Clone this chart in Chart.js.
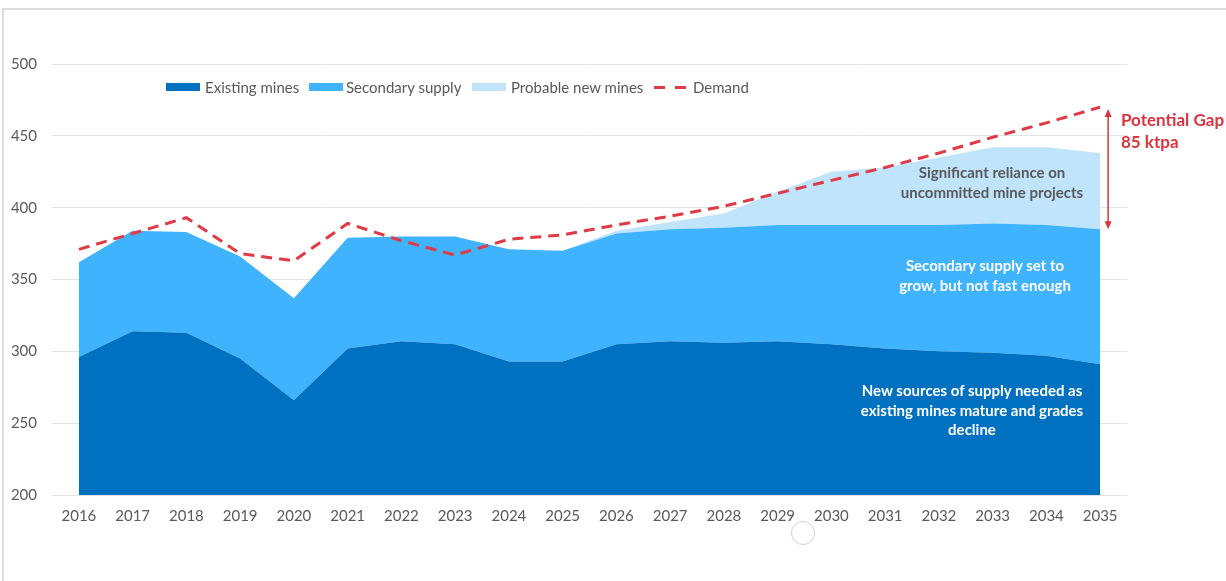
<!DOCTYPE html>
<html>
<head>
<meta charset="utf-8">
<script src="https://cdn.jsdelivr.net/npm/chart.js@4.4.1/dist/chart.umd.min.js"></script>
<style>
    html, body { margin: 0; padding: 0; background: #fff; }
    body { width: 1226px; height: 581px; position: relative; overflow: hidden; font-family: Lato, "Open Sans", sans-serif; }
    #frame { position: absolute; left: 2px; top: 8px; right: -10px; bottom: -10px; border-top: 2px solid #dcdcdc; border-left: 2px solid #dcdcdc; }
    #wrap { position: absolute; left: 0; top: 0; width: 1226px; height: 581px; }
    .leg { position: absolute; top: 78px; height: 18px; line-height: 18px; font-size: 15px; color: #595959; white-space: nowrap; }
    .box { position: absolute; top: 83px; width: 34px; height: 8px; }
    .note { position: absolute; font-weight: bold; font-size: 15px; line-height: 19.5px; text-align: center; white-space: nowrap; transform: translateX(-50%); }
    .gap { position: absolute; left: 1121px; top: 109px; font-weight: bold; font-size: 17px; line-height: 22px; color: #d9343f; white-space: nowrap; }
    #blip { position: absolute; left: 791px; top: 521px; width: 22px; height: 22px; border: 1px solid #d0d0d0; border-radius: 50%; }
</style>
</head>
<body>
<div id="frame"></div>
<div id="wrap"><canvas id="supplyChart" width="1226" height="581"></canvas></div>

<div class="box" style="left:166px;background:#0070c0"></div>
<div class="leg" style="left:205px">Existing mines</div>
<div class="box" style="left:309px;background:#40b3ff"></div>
<div class="leg" style="left:346px">Secondary supply</div>
<div class="box" style="left:472px;background:#c0e4fb"></div>
<div class="leg" style="left:511px">Probable new mines</div>
<div class="box" style="left:654px;top:86px;width:11px;height:3px;background:#df3a45"></div>
<div class="box" style="left:675px;top:86px;width:11px;height:3px;background:#df3a45"></div>
<div class="leg" style="left:693px">Demand</div>

<div class="note" style="left:992px;top:163px;color:#595959">Significant reliance on<br>uncommitted mine projects</div>
<div class="note" style="left:985px;top:256px;color:#fff">Secondary supply set to<br>grow, but not fast enough</div>
<div class="note" style="left:972px;top:381px;color:#fff">New sources of supply needed as<br>existing mines mature and grades<br>decline</div>
<div class="gap">Potential Gap<br>85 ktpa</div>
<div id="blip"></div>

<script>
// ข้อมูลของกราฟ (ktpa)
const years = ['2016', '2017', '2018', '2019', '2020', '2021', '2022', '2023', '2024', '2025',
               '2026', '2027', '2028', '2029', '2030', '2031', '2032', '2033', '2034', '2035'];
const existingMines = [296, 314, 313, 295, 266, 302, 307, 305, 293, 293, 305, 307, 306, 307, 305, 302, 300, 299, 297, 291];
const secondarySupply = [66, 70, 70, 71, 71, 77, 73, 75, 78, 77, 77, 78, 80, 81, 83, 86, 88, 90, 91, 94];
const probableNewMines = [0, 0, 0, 0, 0, 0, 0, 0, 0, 0, 2, 5, 10, 23, 37, 40, 47, 53, 54, 53];
const demand = [371, 382, 393, 368, 363, 389, 377, 367, 378, 381, 388, 394, 401, 410, 419, 428, 438, 449, 459, 470];
const yTicks = [200, 250, 300, 350, 400, 450, 500];

// ลูกศรแสดง gap ที่ปี 2035
const gapArrow = {
    id: 'gapArrow',
    afterDatasetsDraw(chart) {
        const { ctx, scales } = chart;
        const last = years.length - 1;
        const x = scales.x.getPixelForValue(last) + 8;
        const yTop = scales.y.getPixelForValue(demand[last]) + 2;
        const yBot = scales.y.getPixelForValue(existingMines[last] + secondarySupply[last]);
        ctx.save();
        ctx.strokeStyle = '#d9343f';
        ctx.fillStyle = '#d9343f';
        ctx.lineWidth = 1.5;
        ctx.beginPath();
        ctx.moveTo(x, yTop + 4);
        ctx.lineTo(x, yBot - 4);
        ctx.stroke();
        ctx.beginPath();
        ctx.moveTo(x, yTop); ctx.lineTo(x - 3.5, yTop + 8); ctx.lineTo(x + 3.5, yTop + 8); ctx.closePath();
        ctx.fill();
        ctx.beginPath();
        ctx.moveTo(x, yBot); ctx.lineTo(x - 3.5, yBot - 8); ctx.lineTo(x + 3.5, yBot - 8); ctx.closePath();
        ctx.fill();
        ctx.restore();
    }
};

function initializeSupplyChart() {
    const ctx = document.getElementById('supplyChart').getContext('2d');
    new Chart(ctx, {
        type: 'line',
        data: {
            labels: years,
            datasets: [
                {
                    label: 'Demand',
                    data: demand,
                    stack: 'demand',
                    borderColor: '#df3a45',
                    borderWidth: 3,
                    borderDash: [11, 7],
                    fill: false
                },
                {
                    label: 'Existing mines',
                    data: existingMines,
                    stack: 'supply',
                    backgroundColor: '#0070c0',
                    borderWidth: 0,
                    fill: 'start'
                },
                {
                    label: 'Secondary supply',
                    data: secondarySupply,
                    stack: 'supply',
                    backgroundColor: '#40b3ff',
                    borderWidth: 0,
                    fill: '-1'
                },
                {
                    label: 'Probable new mines',
                    data: probableNewMines,
                    stack: 'supply',
                    backgroundColor: '#c0e4fb',
                    borderWidth: 0,
                    fill: '-1'
                }
            ]
        },
        options: {
            responsive: false,
            animation: false,
            layout: { padding: { left: 0, right: 99, top: 64, bottom: 0 } },
            elements: { point: { radius: 0 }, line: { tension: 0 } },
            plugins: { legend: { display: false }, tooltip: { enabled: false } },
            scales: {
                x: {
                    offset: true,
                    grid: { display: false, drawTicks: false },
                    border: { display: false },
                    ticks: { color: '#595959', font: { family: 'Lato', size: 15 }, padding: 12, maxRotation: 0, autoSkip: false },
                    afterFit(scale) { scale.height = 86; }
                },
                y: {
                    stacked: true,
                    min: 200,
                    max: 500,
                    afterBuildTicks(scale) { scale.ticks = yTicks.map(v => ({ value: v })); },
                    grid: { color: '#e3e3e3', lineWidth: 1, drawTicks: false },
                    border: { display: false },
                    ticks: { color: '#595959', font: { family: 'Lato', size: 15 }, padding: 15 },
                    afterFit(scale) { scale.width = 52; }
                }
            }
        },
        plugins: [gapArrow]
    });
}

document.addEventListener('DOMContentLoaded', () => {
    initializeSupplyChart();
});
</script>
</body>
</html>
